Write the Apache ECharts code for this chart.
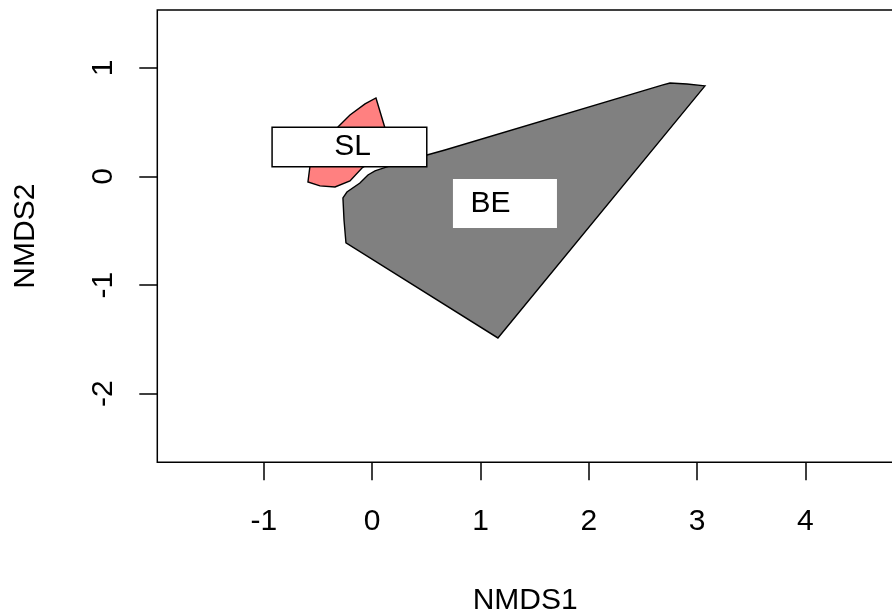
<!DOCTYPE html>
<html>
<head>
<meta charset="utf-8">
<script src="https://cdn.jsdelivr.net/npm/echarts@6/dist/echarts.min.js"></script>
<style>
  html, body { margin: 0; padding: 0; background: #fff; }
  #chart { width: 892px; height: 614px; }
</style>
</head>
<body>
<div id="chart"></div>
<script>
// NMDS ordination: convex hulls of the two groups (site scores)
const xTicks = [-1, 0, 1, 2, 3, 4];
const yTicks = [-2, -1, 0, 1];
const xRange = [-1.984, 4.809];
const yRange = [-2.632, 1.533];

// hull vertices, [NMDS1, NMDS2]
const hullSL = [
  [0.035, 0.723], [0.118, 0.447], [0.127, 0.318], [0.054, 0.170],
  [-0.066, 0.097], [-0.094, 0.078], [-0.205, -0.041], [-0.343, -0.097],
  [-0.482, -0.087], [-0.593, -0.051], [-0.574, 0.097], [-0.500, 0.318],
  [-0.316, 0.456], [-0.205, 0.566], [-0.066, 0.668]
];
const hullBE = [
  [3.073, 0.834], [2.907, 0.852], [2.750, 0.861], [2.685, 0.843],
  [0.672, 0.244], [0.506, 0.198], [0.164, 0.097], [0.026, 0.051],
  [-0.039, 0.014], [-0.113, -0.060], [-0.233, -0.143], [-0.270, -0.198],
  [-0.260, -0.401], [-0.242, -0.612], [1.161, -1.487]
];

// group label positions
const groups = ['SL', 'BE'];
const labelPos = { SL: [-0.210, 0.272], BE: [1.226, -0.249] };

const FONT = 'Liberation Sans, Arial, sans-serif';
const FS = 30;

function hullSeries(name, pts, fill) {
  return {
    name: name,
    type: 'custom',
    coordinateSystem: 'cartesian2d',
    clip: false,
    silent: true,
    data: [pts[0]],
    renderItem: function (params, api) {
      return {
        type: 'polygon',
        shape: { points: pts.map(function (p) { return api.coord(p); }) },
        style: { fill: fill, stroke: '#000', lineWidth: 1.4 }
      };
    }
  };
}

function labelSeries(name, boxStyle) {
  return {
    name: name + ' label',
    type: 'scatter',
    symbolSize: 0,
    silent: true,
    z: 10,
    itemStyle: { opacity: 1 },
    data: [labelPos[name]],
    label: Object.assign({
      show: true,
      position: 'inside',
      formatter: name,
      fontFamily: FONT,
      fontSize: FS,
      lineHeight: FS,
      color: '#000',
      opacity: 1,
      backgroundColor: '#fff'
    }, boxStyle)
  };
}

const textStyle = { fontFamily: FONT, fontSize: FS, color: '#000', lineHeight: FS };

const chart = echarts.init(document.getElementById('chart'), null, { renderer: 'canvas' });
chart.setOption({
  animation: false,
  backgroundColor: '#fff',
  grid: {
    show: true,
    left: 157.3, top: 10, right: -1, bottom: 151.7,
    outerBoundsMode: 'none',
    containLabel: false,
    borderColor: '#000', borderWidth: 1.5,
    backgroundColor: 'transparent'
  },
  xAxis: {
    type: 'value',
    min: xRange[0], max: xRange[1],
    name: 'NMDS1',
    nameLocation: 'middle',
    nameGap: 123,
    nameTextStyle: textStyle,
    axisLine: { show: false, onZero: false },
    splitLine: { show: false },
    axisTick: { show: true, inside: false, length: 18, customValues: xTicks,
                lineStyle: { color: '#000', width: 1.5 } },
    axisLabel: Object.assign({ show: true, customValues: xTicks, margin: 44.5 }, textStyle)
  },
  yAxis: {
    type: 'value',
    min: yRange[0], max: yRange[1],
    name: 'NMDS2',
    nameLocation: 'middle',
    nameGap: 116.5,
    nameTextStyle: textStyle,
    axisLine: { show: false, onZero: false },
    splitLine: { show: false },
    axisTick: { show: true, inside: false, length: 18, customValues: yTicks,
                lineStyle: { color: '#000', width: 1.5 } },
    axisLabel: Object.assign({ show: true, customValues: yTicks, rotate: 90, margin: 38.5 }, textStyle)
  },
  series: [
    hullSeries('BE', hullBE, '#808080'),
    hullSeries('SL', hullSL, '#FF8080'),
    labelSeries('SL', { borderColor: '#000', borderWidth: 1.5, padding: [7.5, 55, 0.5, 61.5] }),
    labelSeries('BE', { padding: [12.5, 46.4, 6.5, 17.6] })
  ]
});
</script>
</body>
</html>
